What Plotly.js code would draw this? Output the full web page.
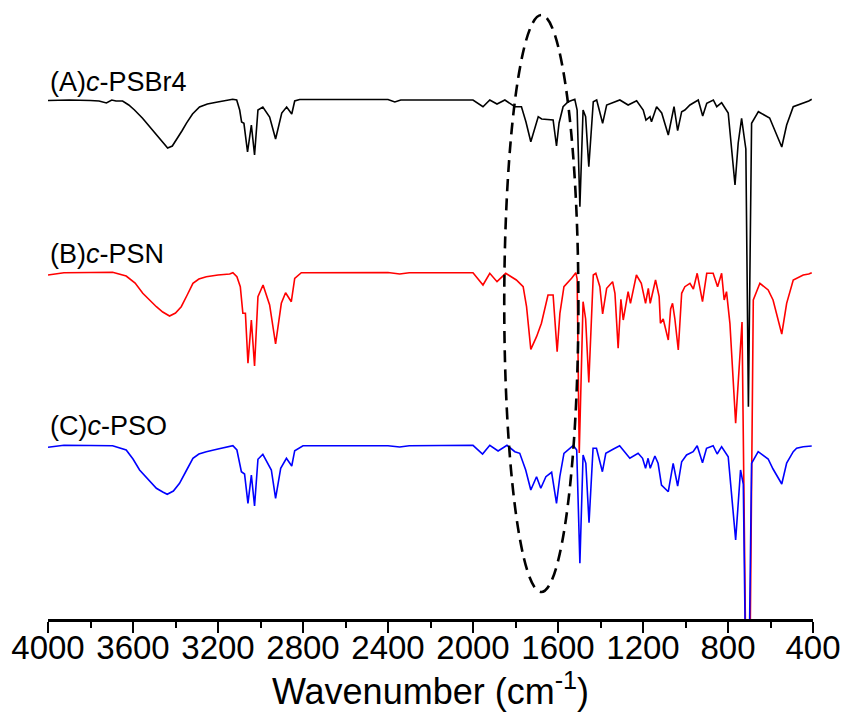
<!DOCTYPE html>
<html>
<head>
<meta charset="utf-8">
<script src="https://cdn.plot.ly/plotly-3.0.1.min.js"></script>
<style>html,body{margin:0;padding:0;background:#fff;}#chart{width:843px;height:717px;}</style>
</head>
<body>
<div id="chart"></div>
<script>
// Wavenumbers (cm-1) and relative intensities (a.u., stacked traces)
const wnA = [4000,3900,3800,3760,3725,3700,3680,3649,3620,3593,3555,3520,3490,3460,3437,3415,3396,3370,3349,3320,3287,3250,3208,3131,3112,3098,3089,3078,3061,3043,3028,3012,2989,2957,2929,2900,2877,2853,2839,2816,2600,2400,2368,2340,2200,2000,1953,1921,1887,1850,1803,1772,1751,1728,1693,1677,1623,1607,1595,1576,1552,1521,1510,1497,1482,1470,1455,1434,1418,1390,1371,1340,1309,1270,1230,1199,1186,1167,1160,1136,1112,1081,1054,1037,1018,1003,979,940,919,900,869,853,830,799,767,752,736,720,716,704,692,689,657,626,604,547,524,493,446,420,406];
const yA  = [518.5,519,518.5,518,516,519,518,518,514,509,500.7,492,484,476,471,473,479,488,495.7,505,512,515,516.7,519.7,519,509,497,495.7,467,494,464,509,512,502,480,506,512,505,518,519.5,519.5,519.5,517,519,519,519,512.3,519,515,519,512.3,512.3,497.3,477.3,502.3,500,499,473,496,512.3,517.3,519.7,509,412.3,509,502.3,452.3,517.3,519,495.7,514,516.3,519,514,518.3,509,499,502.3,497.3,512.3,506,484,512.3,488.3,507.3,509,514,519,503,515.7,519,512.3,516.3,506,434,476,500.7,476,470,212.3,490,495.7,507.3,504,501,472,494,512.3,515.7,518,519.7];

const wnB = [4000,3925,3800,3696,3632,3590,3554,3520,3490,3460,3428,3400,3373,3345,3318,3290,3255,3200,3145,3130,3111,3095,3083,3071,3059,3043,3028,3012,2988,2957,2929,2902,2882,2855,2839,2808,2600,2400,2345,2300,2000,1953,1921,1887,1846,1796,1764,1748,1728,1701,1678,1647,1623,1604,1591,1572,1536,1516,1510,1500,1482,1470,1455,1440,1434,1422,1403,1390,1371,1343,1332,1317,1304,1293,1270,1259,1231,1208,1188,1175,1166,1141,1124,1118,1105,1081,1070,1061,1050,1034,1018,1003,979,963,945,920,900,870,849,830,818,807,791,764,734,712,700,681,650,611,588,547,524,493,446,420,406];
const yB  = [344,346.3,346.5,346.7,343,336,325.7,318,312.3,307,303,306,312.3,324,335.7,340,342.3,344,345,346.3,342.3,332.3,305.7,305.7,255.7,299,253,322.3,334,314,275,315.7,326.3,317.3,340.7,346.3,346.3,346.5,345,346.3,346.3,334,345.7,337.3,345.7,339,332.3,312.3,269.7,282.3,295.7,324,324,267.3,305.7,332.3,340.7,346.3,340,166,317.3,300,236.5,320,344,345.7,332.3,305,330.7,337.3,325.7,270.7,319.7,299,327.3,315.7,344,335.7,315.7,330.7,315.7,339,322.3,295.7,300,279,310,315.7,300,269,325.7,332.3,335.7,330,345.7,317.3,345.7,345.7,332.3,345.7,319,327.3,295.7,195.7,297,-120,-120,319,335.7,329,319,285,315.7,339,344,345,346.3];

const wnC = [4000,3925,3800,3696,3632,3600,3569,3530,3490,3460,3439,3410,3381,3350,3318,3290,3255,3200,3130,3111,3090,3075,3059,3043,3028,3012,2989,2949,2929,2905,2878,2853,2839,2800,2600,2400,2345,2300,2000,1955,1921,1882,1840,1803,1780,1752,1728,1701,1681,1657,1630,1607,1591,1572,1528,1512,1497,1482,1469,1454,1435,1419,1391,1375,1341,1310,1262,1223,1202,1188,1176,1166,1144,1129,1113,1081,1058,1037,1018,995,964,945,920,901,870,851,830,799,764,741,728,714,704,689,658,626,611,588,547,524,493,477,446,406];
const yC  = [171.7,173.7,173.5,173.3,169,160,149,140,130.7,127,124.7,128,135.7,148,160.7,165,167.3,170,173.3,169,147.3,145,115.7,144,113,159.7,164.7,149,120.7,150.7,160.7,153,168.3,173.3,173.5,173.3,172,173.3,173.7,165,173.7,168,173.7,167.3,165.7,149,129,142.3,130.7,142.3,146.7,115.7,143,165.7,173.7,169,55.7,164,155.7,96.3,170.7,170.7,147.3,165.7,169.7,173.3,160.7,165.7,160.7,150.7,160.7,150.7,163,155.7,134,127.3,155.7,133,157.3,164,167.3,173.3,156.3,170.7,173.3,165,172.3,162.3,79,149,135,-100,-100,155.7,167.3,162.3,160,150,135,156,167.3,170.7,172.3,173];

const seriesNames = ['(A)<i>c</i>-PSBr4', '(B)<i>c</i>-PSN', '(C)<i>c</i>-PSO'];
const seriesColors = ['#000000', '#ff0000', '#0000ff'];
const labelLevels = [537, 365, 193];
const xTickVals = [4000,3600,3200,2800,2400,2000,1600,1200,800,400];

const FONT = 'Arial, "Liberation Sans", Helvetica, sans-serif';
const xs = [wnA, wnB, wnC], ys = [yA, yB, yC];
const traces = xs.map((x, i) => ({
  x: x, y: ys[i], type: 'scatter', mode: 'lines',
  line: {color: seriesColors[i], width: 1.6},
  hoverinfo: 'skip', showlegend: false
}));

const annotations = seriesNames.map((t, i) => ({
  text: t, x: 4000, y: labelLevels[i], xref: 'x', yref: 'y',
  xanchor: 'left', yanchor: 'middle', showarrow: false,
  font: {family: FONT, size: 27, color: '#000'}
}));

const layout = {
  width: 843, height: 717,
  margin: {l: 48, r: 30, t: 10, b: 98},
  paper_bgcolor: '#fff', plot_bgcolor: '#fff',
  showlegend: false,
  xaxis: {
    range: [4000, 400], autorange: false,
    tickvals: xTickVals, ticktext: xTickVals.map(String),
    ticks: 'outside', ticklen: 11, tickwidth: 2.2, tickcolor: '#000',
    ticklabelstandoff: -13,
    minor: {dtick: 200, tick0: 0, ticks: 'outside', ticklen: 6, tickwidth: 2, tickcolor: '#000'},
    showline: true, linecolor: '#000', linewidth: 2.5, mirror: false,
    showgrid: false, zeroline: false,
    tickfont: {family: FONT, size: 33, color: '#000'},
    title: {text: 'Wavenumber (cm<sup>-1</sup>)', font: {family: FONT, size: 36, color: '#000'}, standoff: 7},
    automargin: false
  },
  yaxis: {range: [0, 609], visible: false, showgrid: false, zeroline: false},
  annotations: annotations,
  shapes: [{
    type: 'circle', xref: 'x', yref: 'y',
    x0: 1853, x1: 1504, y0: 27, y1: 604,
    line: {color: '#000', width: 2.6, dash: '12px,7px'}
  }]
};

Plotly.newPlot('chart', traces, layout, {staticPlot: true, displayModeBar: false});
</script>
</body>
</html>
